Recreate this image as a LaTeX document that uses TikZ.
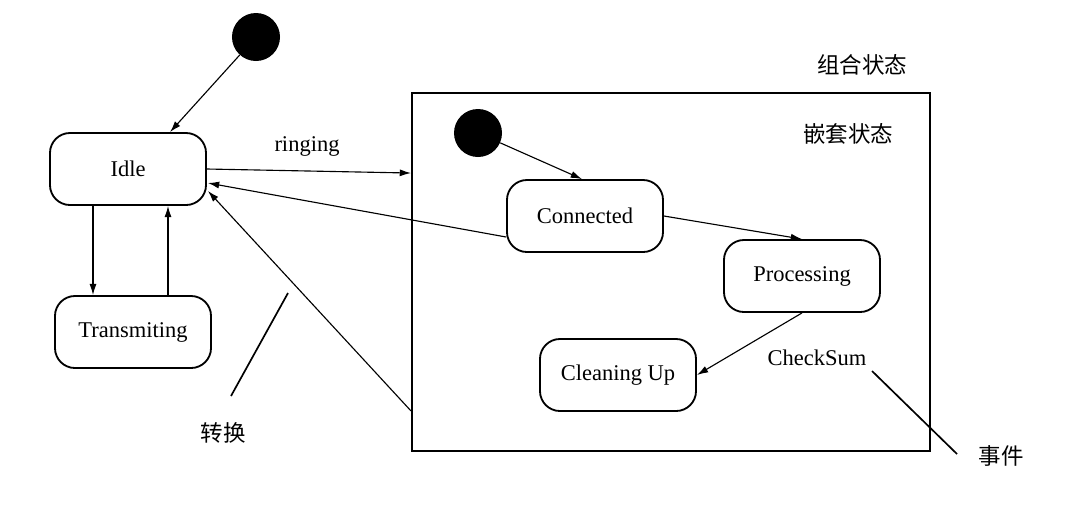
\documentclass[tikz,border=0pt]{standalone}
\usepackage{fontspec}
\setmainfont{Liberation Serif}
\newfontfamily\cjk{Noto Sans CJK SC}
\usetikzlibrary{arrows.meta,calc}

\begin{document}
\begin{tikzpicture}[x=0.025cm, y=-0.025cm,
    every node/.style={font=\fontsize{16}{19}\selectfont},
    stato/.style={draw, line width=1.3pt, rounded corners=0.5cm, minimum width=3.9cm, minimum height=1.8cm},
    iniziale/.style={circle, fill=black, minimum size=1.2cm, inner sep=0pt},
    freccia/.style={line width=0.8pt, -{Latex[length=8pt,width=5pt]}},
    nota/.style={line width=1.2pt}]
      \useasboundingbox (0,0) rectangle (1092,516);

      % Stato composto
      \node (comp) at (671,272) [draw, line width=1.3pt, minimum width=12.95cm, minimum height=8.95cm] {};
      \node (compl) at (862,65) {\cjk 组合状态};
      \node (nidl) at (848,134) {\cjk 嵌套状态};

      % Stati esterni
      \node (init1) at (256,37) [iniziale] {};
      \node (idle) at (128,169) [stato] {Idle};
      \node (trans) at (133,332) [stato] {Transmiting};

      % Stati interni
      \node (init2) at (478,133) [iniziale] {};
      \node (conn) at (585,216) [stato] {Connected};
      \node (proc) at (802,276) [stato] {Processing};
      \node (clean) at (618,375) [stato] {Cleaning Up};

      % Etichette
      \node (ring) at (307,146) {ringing};
      \node (cs) at (817,358) {CheckSum};
      \node (evt) at (1001,456) {\cjk 事件};
      \node (conv) at (223,433) {\cjk 转换};
      \coordinate (c1) at (872,371);
      \coordinate (c2) at (957,454);
      \coordinate (t1) at (288,293);
      \coordinate (t2) at (231,396);

      % Transizioni
      \draw[freccia] (init1) -- ($(idle.north)+(42,0)$);
      \draw[freccia] (idle.east) -- ($(comp.north west)+(0,81)$);
      \draw[freccia] ($(conn.west)+(0,21)$) -- ($(idle.east)+(1,14)$);
      \draw[freccia] ($(comp.south west)+(0,-41)$) -- ($(idle.south east)+(1,-15)$);
      \draw[freccia] ($(idle.south)+(-35,0)$) -- ($(trans.north)+(-40,0)$);
      \draw[freccia] ($(trans.north)+(35,0)$) -- ($(idle.south)+(40,0)$);
      \draw[freccia] (init2) -- ($(conn.north)+(-3,0)$);
      \draw[freccia] (conn.east) -- (proc.north);
      \draw[freccia] (proc.south) -- (clean.east);

      % Note
      \draw[nota] (c1) -- (c2);
      \draw[nota] (t1) -- (t2);
    \end{tikzpicture}
\end{document}
